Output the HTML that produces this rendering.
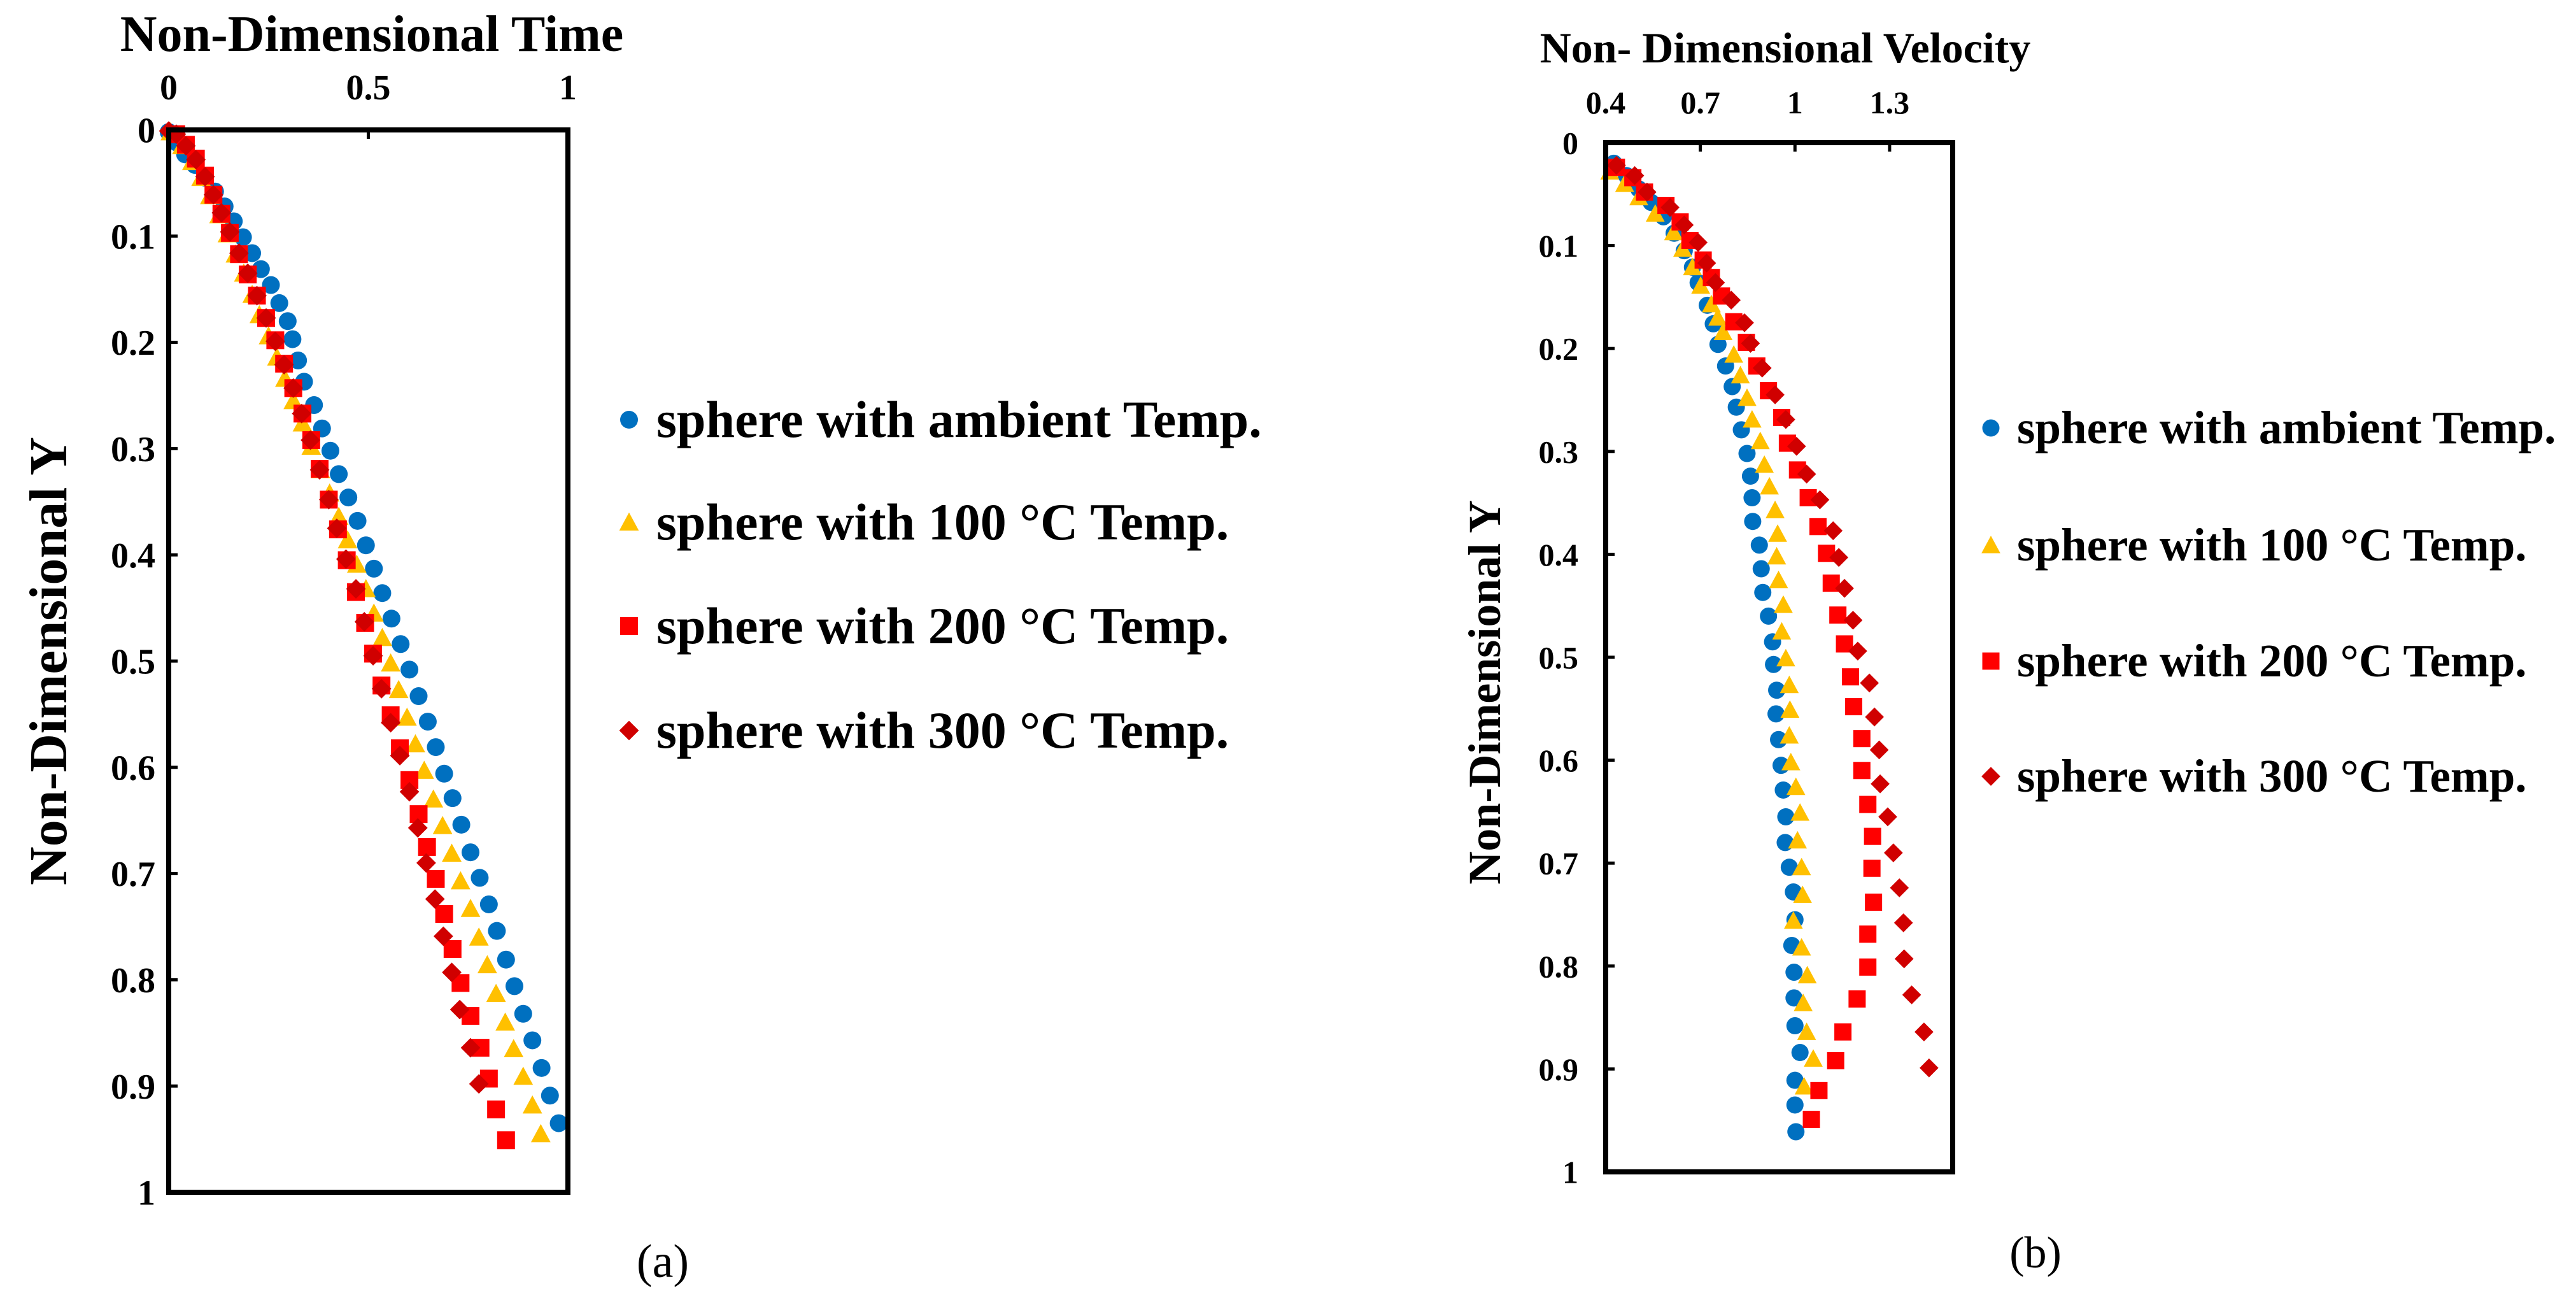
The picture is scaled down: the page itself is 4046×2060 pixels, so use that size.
<!DOCTYPE html>
<html><head><meta charset="utf-8"><style>
html,body{margin:0;padding:0;background:#fff;}
svg{display:block;font-family:"Liberation Serif",serif;}
</style></head><body>
<svg id="fig" width="4046" height="2060" viewBox="0 0 4046 2060" xmlns="http://www.w3.org/2000/svg"></svg>
<script>
// ---------- Panel (a) data: [time, Y] ----------
const aXTicks=[0,0.5,1];
const aYTicks=[0,0.1,0.2,0.3,0.4,0.5,0.6,0.7,0.8,0.9,1];
const aYTickLabels=["0","0.1","0.2","0.3","0.4","0.5","0.6","0.7","0.8","0.9","1"];
const aXTickLabels=["0","0.5","1"];
const aAmbient=[[0,0.002],[0.021,0.012],[0.041,0.023],[0.066,0.033],[0.091,0.045],[0.116,0.058],[0.14,0.072],[0.163,0.086],[0.186,0.101],[0.209,0.116],[0.231,0.131],[0.256,0.146],[0.277,0.163],[0.298,0.18],[0.31,0.197],[0.324,0.217],[0.339,0.237],[0.364,0.259],[0.384,0.281],[0.405,0.302],[0.426,0.324],[0.45,0.346],[0.473,0.368],[0.494,0.391],[0.514,0.413],[0.535,0.436],[0.558,0.46],[0.581,0.484],[0.603,0.508],[0.626,0.533],[0.649,0.557],[0.669,0.581],[0.69,0.606],[0.711,0.629],[0.733,0.654],[0.756,0.68],[0.779,0.704],[0.802,0.729],[0.822,0.754],[0.845,0.781],[0.866,0.806],[0.888,0.832],[0.911,0.857],[0.934,0.883],[0.955,0.909],[0.977,0.935]];
const a100=[[0.004,0.002],[0.033,0.015],[0.058,0.03],[0.081,0.045],[0.103,0.062],[0.126,0.08],[0.147,0.098],[0.167,0.117],[0.188,0.135],[0.209,0.155],[0.227,0.174],[0.25,0.194],[0.271,0.214],[0.291,0.234],[0.312,0.255],[0.335,0.276],[0.357,0.298],[0.38,0.32],[0.403,0.342],[0.426,0.364],[0.448,0.386],[0.471,0.409],[0.494,0.432],[0.514,0.455],[0.535,0.478],[0.556,0.502],[0.576,0.527],[0.597,0.553],[0.618,0.578],[0.64,0.603],[0.663,0.63],[0.686,0.655],[0.709,0.681],[0.731,0.707],[0.756,0.733],[0.777,0.76],[0.798,0.786],[0.82,0.813],[0.843,0.84],[0.864,0.865],[0.888,0.891],[0.911,0.918],[0.932,0.945]];
const a200=[[0.019,0.004],[0.043,0.014],[0.068,0.027],[0.091,0.043],[0.112,0.061],[0.132,0.079],[0.153,0.097],[0.176,0.117],[0.198,0.136],[0.221,0.156],[0.244,0.177],[0.267,0.198],[0.289,0.22],[0.312,0.243],[0.335,0.267],[0.357,0.292],[0.378,0.319],[0.401,0.348],[0.424,0.376],[0.446,0.405],[0.469,0.435],[0.492,0.464],[0.512,0.493],[0.533,0.523],[0.556,0.551],[0.579,0.582],[0.603,0.612],[0.626,0.644],[0.647,0.675],[0.669,0.705],[0.69,0.738],[0.711,0.771],[0.731,0.803],[0.756,0.834],[0.781,0.864],[0.802,0.893],[0.82,0.922],[0.845,0.951]];
const a300=[[0,0.001],[0.019,0.004],[0.043,0.015],[0.068,0.028],[0.091,0.044],[0.112,0.061],[0.132,0.078],[0.153,0.096],[0.176,0.116],[0.198,0.135],[0.221,0.156],[0.244,0.177],[0.267,0.199],[0.289,0.221],[0.312,0.243],[0.333,0.267],[0.355,0.292],[0.378,0.32],[0.401,0.348],[0.421,0.375],[0.444,0.404],[0.469,0.432],[0.49,0.463],[0.512,0.495],[0.533,0.526],[0.556,0.558],[0.579,0.589],[0.603,0.623],[0.624,0.657],[0.645,0.69],[0.667,0.724],[0.688,0.759],[0.709,0.793],[0.729,0.828],[0.756,0.864],[0.777,0.898]];

// ---------- Panel (b) data: [velocity, Y] ----------
const bXTicks=[0.4,0.7,1,1.3];
const bXTickLabels=["0.4","0.7","1","1.3"];
const bYTicks=[0,0.1,0.2,0.3,0.4,0.5,0.6,0.7,0.8,0.9,1];
const bYTickLabels=["0","0.1","0.2","0.3","0.4","0.5","0.6","0.7","0.8","0.9","1"];
const bAmbient=[[0.426,0.02],[0.466,0.032],[0.505,0.045],[0.544,0.058],[0.583,0.072],[0.617,0.088],[0.649,0.105],[0.675,0.121],[0.693,0.136],[0.722,0.158],[0.741,0.176],[0.756,0.196],[0.78,0.217],[0.801,0.237],[0.814,0.257],[0.83,0.279],[0.848,0.302],[0.859,0.324],[0.864,0.345],[0.866,0.368],[0.887,0.391],[0.893,0.414],[0.898,0.437],[0.916,0.46],[0.929,0.485],[0.932,0.507],[0.942,0.532],[0.94,0.555],[0.948,0.58],[0.956,0.605],[0.963,0.629],[0.971,0.655],[0.969,0.68],[0.982,0.704],[0.995,0.728],[1.0,0.755],[0.99,0.78],[0.997,0.806],[0.997,0.831],[1.0,0.858],[1.016,0.884],[1.0,0.911],[1.0,0.935],[1.003,0.961]];
const b100=[[0.413,0.028],[0.46,0.04],[0.505,0.053],[0.557,0.069],[0.615,0.087],[0.644,0.103],[0.675,0.121],[0.701,0.139],[0.735,0.157],[0.755,0.17],[0.772,0.184],[0.806,0.206],[0.827,0.226],[0.848,0.248],[0.864,0.269],[0.89,0.29],[0.903,0.313],[0.919,0.334],[0.937,0.357],[0.945,0.38],[0.942,0.402],[0.948,0.425],[0.963,0.449],[0.958,0.475],[0.971,0.501],[0.982,0.527],[0.984,0.551],[0.982,0.576],[0.987,0.602],[1.003,0.626],[1.016,0.651],[1.008,0.678],[1.021,0.704],[1.024,0.731],[0.995,0.756],[1.021,0.782],[1.039,0.809],[1.026,0.836],[1.037,0.864],[1.058,0.89],[1.029,0.917]];
const b200=[[0.434,0.024],[0.486,0.034],[0.523,0.048],[0.591,0.061],[0.636,0.077],[0.667,0.095],[0.709,0.114],[0.735,0.131],[0.767,0.149],[0.806,0.174],[0.846,0.194],[0.879,0.217],[0.916,0.241],[0.958,0.267],[0.976,0.292],[1.008,0.318],[1.042,0.345],[1.073,0.373],[1.1,0.399],[1.115,0.428],[1.136,0.459],[1.157,0.487],[1.176,0.519],[1.186,0.548],[1.212,0.579],[1.212,0.61],[1.231,0.643],[1.246,0.674],[1.244,0.705],[1.249,0.738],[1.231,0.769],[1.231,0.801],[1.197,0.832],[1.152,0.864],[1.129,0.892],[1.076,0.921],[1.052,0.949]];
const b300=[[0.434,0.022],[0.492,0.032],[0.531,0.048],[0.604,0.063],[0.649,0.08],[0.693,0.097],[0.72,0.117],[0.748,0.136],[0.798,0.153],[0.84,0.175],[0.859,0.195],[0.896,0.219],[0.937,0.245],[0.971,0.269],[1.005,0.295],[1.037,0.322],[1.079,0.347],[1.121,0.377],[1.139,0.403],[1.157,0.433],[1.184,0.464],[1.199,0.494],[1.236,0.525],[1.252,0.558],[1.267,0.59],[1.27,0.623],[1.294,0.655],[1.312,0.69],[1.331,0.724],[1.344,0.758],[1.346,0.793],[1.37,0.828],[1.409,0.864],[1.425,0.899]];

const seriesNames=["sphere with ambient Temp.","sphere with 100 °C Temp.","sphere with 200 °C Temp.","sphere with 300 °C Temp."];

const NS="http://www.w3.org/2000/svg";
const svg=document.getElementById('fig');
function mk(tag,attrs,parent){const e=document.createElementNS(NS,tag);for(const k in attrs)e.setAttribute(k,attrs[k]);(parent||svg).appendChild(e);return e;}
const COLORS=["#0070c0","#ffc000","#ff0000","#d00000"];
function marker(g,kind,cx,cy,s){
  let e;
  if(kind===0){e=mk('circle',{cx:cx,cy:cy,r:s*0.5,fill:COLORS[0]},g);}
  else if(kind===1){const h=s*0.55;e=mk('polygon',{points:`${cx},${cy-h} ${cx+h},${cy+h*0.85} ${cx-h},${cy+h*0.85}`,fill:COLORS[1]},g);}
  else if(kind===2){const h=s*0.5;e=mk('rect',{x:cx-h,y:cy-h,width:2*h,height:2*h,fill:COLORS[2]},g);}
  else {const h=s*0.55;e=mk('polygon',{points:`${cx},${cy-h} ${cx+h},${cy} ${cx},${cy+h} ${cx-h},${cy}`,fill:COLORS[3]},g);}
  return e;
}

function panel(cfg){
  const g=mk('g',{});
  
  
  const sx=v=>cfg.L+(v-cfg.xmin)/(cfg.xmax-cfg.xmin)*(cfg.R-cfg.L);
  const sy=v=>cfg.T+(v-cfg.ymin)/(cfg.ymax-cfg.ymin)*(cfg.B-cfg.T);
  cfg.series.forEach((s,i)=>{
    const sg=mk('g',{},g);
    
    
    s.forEach(p=>{
      const m=marker(sg,i,sx(p[0]),sy(p[1]),cfg.ms);
      
      
    });
  });
  const box=mk('rect',{x:cfg.L,y:cfg.T,width:cfg.R-cfg.L,height:cfg.B-cfg.T,fill:'none',stroke:'#000','stroke-width':8},g);
  
  
  cfg.xt.forEach((v,i)=>{
    const x=sx(v);
    const tk=mk('line',{x1:x,y1:cfg.T,x2:x,y2:cfg.T+14,stroke:'#000','stroke-width':5},g);
    
    
    const t=mk('text',{x:x,y:cfg.xLabY,'text-anchor':'middle','font-size':cfg.tf,'font-weight':'bold',fill:'#000'},g);
    t.textContent=cfg.xtl[i];
    
    
  });
  cfg.yt.forEach((v,i)=>{
    const y=sy(v);
    const tk=mk('line',{x1:cfg.L,y1:y,x2:cfg.L+14,y2:y,stroke:'#000','stroke-width':5},g);
    
    
    const t=mk('text',{x:cfg.yLabX,y:y+cfg.tf*0.35,'text-anchor':'end','font-size':cfg.tf,'font-weight':'bold',fill:'#000'},g);
    t.textContent=cfg.ytl[i];
    
    
  });
  const xt=mk('text',{x:cfg.xTitle[0],y:cfg.xTitle[1],'text-anchor':'middle','font-size':cfg.xTitle[2],'font-weight':'bold',fill:'#000'},g);
  xt.textContent=cfg.xTitleText;
  
  
  const yt=mk('text',{x:0,y:0,'text-anchor':'middle','font-size':cfg.yTitle[2],'font-weight':'bold',fill:'#000',transform:`translate(${cfg.yTitle[0]},${cfg.yTitle[1]}) rotate(-90)`},g);
  yt.textContent="Non-Dimensional Y";
  
  
  const lg=mk('g',{},g);
  
  
  seriesNames.forEach((n,i)=>{
    const y=cfg.legY[i];
    const eg=mk('g',{},lg);
    
    
    marker(eg,i,cfg.legMX,y,cfg.ms);
    const t=mk('text',{x:cfg.legTX,y:y+cfg.lf*0.33,'font-size':cfg.lf,'font-weight':'bold',fill:'#000'},eg);
    t.textContent=n;
  });
  const cap=mk('text',{x:cfg.cap[0],y:cfg.cap[1],'text-anchor':'middle','font-size':cfg.cap[2],fill:'#000'},g);
  cap.textContent=cfg.capText;
  
  
}

panel({name:'panel-a',keys:['ambient','100c','200c','300c'],L:265,R:892,T:204,B:1872,xmin:0,xmax:1,ymin:0,ymax:1,
  series:[aAmbient,a100,a200,a300],ms:28,xt:aXTicks,xtl:aXTickLabels,yt:aYTicks,ytl:aYTickLabels,
  tf:56,xLabY:156,yLabX:244,xTitle:[584,80,80],xTitleText:"Non-Dimensional Time",yTitle:[104,1038,84],
  legY:[659,820,983,1147],legMX:988,legTX:1031,lf:82,cap:[1041,2005,74],capText:"(a)"});

panel({name:'panel-b',keys:['ambient','100c','200c','300c'],L:2522,R:3067,T:224,B:1840,xmin:0.4,xmax:1.5,ymin:0,ymax:1,
  series:[bAmbient,b100,b200,b300],ms:27,xt:bXTicks,xtl:bXTickLabels,yt:bYTicks,ytl:bYTickLabels,
  tf:50,xLabY:178,yLabX:2479,xTitle:[2804,98,68],xTitleText:"Non- Dimensional Velocity",yTitle:[2356,1087,72],
  legY:[672,856,1038,1219],legMX:3127,legTX:3168,lf:73,cap:[3197,1990,70],capText:"(b)"});
</script>
</body></html>
